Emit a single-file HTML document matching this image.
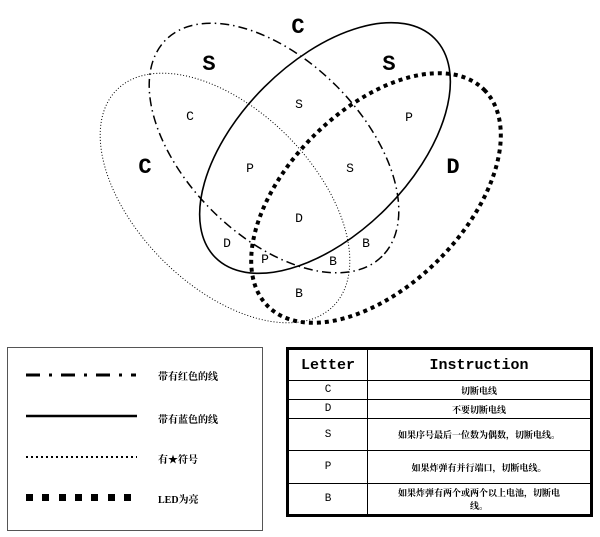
<!DOCTYPE html>
<html><head><meta charset="utf-8"><style>
body{margin:0;background:#fff;width:600px;height:537px;overflow:hidden;position:relative;font-family:"Liberation Serif","Noto Serif CJK SC",serif}
svg{position:absolute;left:0;top:0}
.t{position:absolute;border-collapse:collapse;left:286px;top:347px;width:307px;border:3px solid #000}
.t td{border:1px solid #000;text-align:center;font-size:9px;font-weight:bold;font-family:"Liberation Serif","Noto Serif CJK SC",serif;padding:0}
.t th{border:1px solid #000;font-family:"Liberation Mono",monospace;font-size:15px;font-weight:bold;height:28px}
.lab{position:absolute;font-size:10px;font-weight:bold;font-family:"Liberation Serif","Noto Serif CJK SC",serif}
</style></head><body>
<svg width="600" height="537">
<g fill="none" stroke="#000">
<ellipse cx="274" cy="148" rx="153" ry="88" transform="rotate(45 274 148)" stroke-width="1.5" stroke-dasharray="9 4 1.5 4"/>
<ellipse cx="325" cy="148" rx="155" ry="86" transform="rotate(-45 325 148)" stroke-width="1.6"/>
<ellipse cx="225" cy="198" rx="153" ry="88" transform="rotate(45 225 198)" stroke-width="1" stroke-dasharray="1 2"/>
<ellipse cx="376" cy="198" rx="153" ry="88" transform="rotate(-45 376 198)" stroke-width="4" stroke-dasharray="4 4"/>
</g>
<g font-family="Liberation Mono,monospace" font-weight="bold" text-anchor="middle">
<text x="298" y="33" font-size="22">C</text>
<text x="209" y="70" font-size="22">S</text>
<text x="389" y="70" font-size="22">S</text>
<text x="145" y="173" font-size="22">C</text>
<text x="453" y="173" font-size="22">D</text>
</g>
<g font-family="Liberation Mono,monospace" font-size="13" text-anchor="middle">
<text x="299" y="108">S</text><text x="190" y="120">C</text><text x="409" y="121">P</text>
<text x="250" y="172">P</text><text x="350" y="172">S</text><text x="299" y="222">D</text>
<text x="227" y="247">D</text><text x="366" y="247">B</text><text x="265" y="263">P</text>
<text x="333" y="265">B</text><text x="299" y="297">B</text>
</g>
<rect x="7.5" y="347.5" width="255" height="183" fill="none" stroke="#555" stroke-width="1"/>
<g stroke="#000" fill="none">
<line x1="26" y1="375" x2="136" y2="375" stroke-width="3" stroke-dasharray="14 9 3 9"/>
<line x1="26" y1="416" x2="137" y2="416" stroke-width="2.5"/>
<line x1="26" y1="457" x2="137" y2="457" stroke-width="2" stroke-dasharray="2 3"/>
</g>
<g fill="#000">
<rect x="26" y="494" width="7" height="7"/><rect x="42" y="494" width="7" height="7"/><rect x="59" y="494" width="7" height="7"/><rect x="75" y="494" width="7" height="7"/><rect x="91" y="494" width="7" height="7"/><rect x="108" y="494" width="7" height="7"/><rect x="124" y="494" width="7" height="7"/>
</g>
</svg>
<div class="lab" style="left:158px;top:368px">带有红色的线</div>
<div class="lab" style="left:158px;top:411px">带有蓝色的线</div>
<div class="lab" style="left:158px;top:451px">有★符号</div>
<div class="lab" style="left:158px;top:491px">LED为亮</div>
<table class="t">
<tr><th style="width:76px">Letter</th><th>Instruction</th></tr>
<tr style="height:19px"><td style="font-family:'Liberation Mono',monospace;font-size:11px;font-weight:normal">C</td><td>切断电线</td></tr>
<tr style="height:19px"><td style="font-family:'Liberation Mono',monospace;font-size:11px;font-weight:normal">D</td><td>不要切断电线</td></tr>
<tr style="height:32px"><td style="font-family:'Liberation Mono',monospace;font-size:11px;font-weight:normal">S</td><td>如果序号最后一位数为偶数，切断电线。</td></tr>
<tr style="height:33px"><td style="font-family:'Liberation Mono',monospace;font-size:11px;font-weight:normal">P</td><td>如果炸弹有并行端口，切断电线。</td></tr>
<tr style="height:32px"><td style="font-family:'Liberation Mono',monospace;font-size:11px;font-weight:normal">B</td><td>如果炸弹有两个或两个以上电池，切断电<br>线。</td></tr>
</table>
</body></html>
